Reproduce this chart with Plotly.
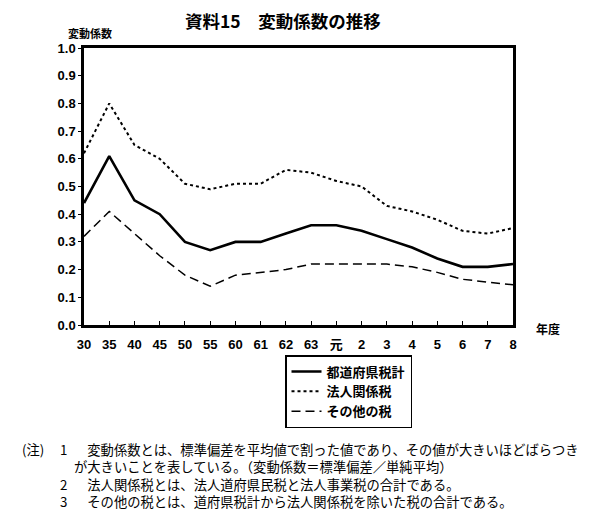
import plotly.graph_objects as go

years = ["30", "35", "40", "45", "50", "55", "60", "61", "62", "63", "元",
         "2", "3", "4", "5", "6", "7", "8"]
total_tax = [0.44, 0.61, 0.45, 0.40, 0.30, 0.27, 0.30, 0.30, 0.33, 0.36, 0.36,
             0.34, 0.31, 0.28, 0.24, 0.21, 0.21, 0.22]
corp_tax = [0.62, 0.80, 0.65, 0.60, 0.51, 0.49, 0.51, 0.51, 0.56, 0.55, 0.52,
            0.50, 0.43, 0.41, 0.38, 0.34, 0.33, 0.35]
other_tax = [0.32, 0.41, 0.33, 0.25, 0.18, 0.14, 0.18, 0.19, 0.20, 0.22, 0.22,
             0.22, 0.22, 0.21, 0.19, 0.165, 0.155, 0.145]
series_names = ["都道府県税計", "法人関係税", "その他の税"]
y_ticks = [0.0, 0.1, 0.2, 0.3, 0.4, 0.5, 0.6, 0.7, 0.8, 0.9, 1.0]
note_numbers = ["1", " ", "2", "3"]
note_lines = [
    "　変動係数とは、標準偏差を平均値で割った値であり、その値が大きいほどばらつき",
    "が大きいことを表している。（変動係数＝標準偏差／単純平均）",
    "　法人関係税とは、法人道府県民税と法人事業税の合計である。",
    "　その他の税とは、道府県税計から法人関係税を除いた税の合計である。",
]

# page body has an 8px margin; work in window pixels and shift
OFF = 8
W, H = 600 - OFF, 512 - OFF
L, R, T, B = 84 - OFF, 513 - OFF, 48 - OFF, 325 - OFF
JP = "Noto Sans CJK JP"
NUM = "Liberation Sans, Noto Sans CJK JP"


def px(x):
    return (x - OFF - L) / (R - L)


def py(y):
    return (B - (y - OFF)) / (B - T)


fig = go.Figure()
fig.add_trace(go.Scatter(x=years, y=total_tax, mode="lines", name=series_names[0],
                         line=dict(color="black", width=2.6)))
fig.add_trace(go.Scatter(x=years, y=corp_tax, mode="lines", name=series_names[1],
                         line=dict(color="black", width=2, dash="dot")))
fig.add_trace(go.Scatter(x=years, y=other_tax, mode="lines", name=series_names[2],
                         line=dict(color="black", width=1.5, dash="9px,5px")))

fig.update_layout(
    width=W, height=H,
    margin=dict(l=L, r=W - R, t=T, b=H - B, pad=0),
    paper_bgcolor="white", plot_bgcolor="white",
    font=dict(family=JP, color="black", size=12),
    showlegend=True,
    legend=dict(x=px(285), y=py(355), xanchor="left", yanchor="top",
                bordercolor="black", borderwidth=1.5, bgcolor="white",
                font=dict(family=JP, size=13, weight="bold"),
                tracegroupgap=0, itemwidth=30),
    xaxis=dict(type="category", categoryorder="array", categoryarray=years,
               range=[0, len(years) - 1], showgrid=False, zeroline=False,
               showline=True, linecolor="black", linewidth=2.5, mirror=True,
               ticks="inside", ticklen=4, tickcolor="black", tickwidth=1,
               tickfont=dict(family=NUM, size=13, weight="bold"),
               ticklabelstandoff=6),
    yaxis=dict(range=[0, 1.0], tickvals=y_ticks,
               ticktext=[f"{v:.1f}" for v in y_ticks],
               showgrid=False, zeroline=False,
               showline=True, linecolor="black", linewidth=2.5, mirror=True,
               ticks="outside", ticklen=3, tickcolor="black", tickwidth=1,
               tickfont=dict(family=NUM, size=13, weight="bold")),
)

ann = []
ann.append(dict(text="資料15　変動係数の推移", x=px(283), y=py(21), xref="paper",
                yref="paper", xanchor="center", yanchor="middle", showarrow=False,
                font=dict(family=JP, size=17.5, weight="bold")))
ann.append(dict(text="変動係数", x=px(66), y=py(33), xref="paper", yref="paper",
                xanchor="left", yanchor="middle", showarrow=False,
                font=dict(family=JP, size=11, weight="bold")))
ann.append(dict(text="年度", x=px(534), y=py(328), xref="paper", yref="paper",
                xanchor="left", yanchor="middle", showarrow=False,
                font=dict(family=JP, size=12, weight="bold")))

NF = 13.3
top_note = 447 - NF * 0.65
ann.append(dict(text="(注)", x=px(20), y=py(top_note), xref="paper", yref="paper",
                xanchor="left", yanchor="top", showarrow=False,
                font=dict(family=JP, size=NF)))
ann.append(dict(text="<br>".join(note_numbers), x=px(58), y=py(top_note),
                xref="paper", yref="paper", xanchor="left", yanchor="top",
                align="left", showarrow=False, font=dict(family=JP, size=NF)))
ann.append(dict(text="<br>".join(note_lines), x=px(72), y=py(top_note),
                xref="paper", yref="paper", xanchor="left", yanchor="top",
                align="left", showarrow=False, font=dict(family=JP, size=NF)))
fig.update_layout(annotations=ann)

fig.write_html("out.html")
